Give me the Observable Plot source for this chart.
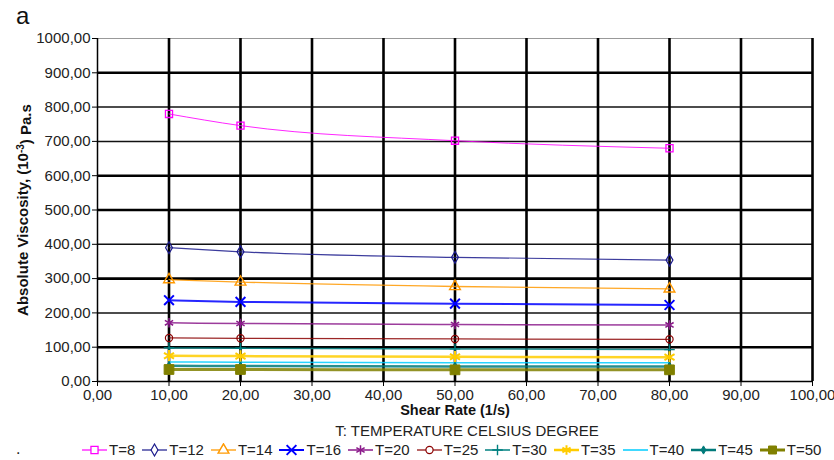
<!DOCTYPE html>
<html><head><meta charset="utf-8">
<script src="https://cdn.jsdelivr.net/npm/d3@7"></script>
<script src="https://cdn.jsdelivr.net/npm/@observablehq/plot@0.6"></script>
<style>
html,body{margin:0;padding:0;background:#fff;}
#wrap{position:relative;width:834px;height:460px;font-family:"Liberation Sans",Arial,sans-serif;color:#222;overflow:hidden}
#chart{position:absolute;left:0;top:0}
#panel{position:absolute;left:16px;top:1px;font-size:24px;line-height:30px;color:#111}
#title{position:absolute;left:0;top:422px;width:834px;box-sizing:border-box;padding-left:100px;text-align:center;font-size:15px;line-height:18px}
#legend{position:absolute;left:82px;top:441px;display:flex;align-items:center;gap:7px;font-size:15px;line-height:18px}
.item{display:flex;align-items:center;gap:2px}
#dot{position:absolute;left:16px;top:440px;font-size:16px}
</style></head>
<body><div id="wrap"><div id="chart"></div><div id="panel">a</div>
<div id="title">T: TEMPERATURE CELSIUS DEGREE</div><div id="legend"></div><div id="dot">.</div></div>
<script>
// ---- data ----
const shearRates = [10, 20, 50, 80];
const seriesNames = ["T=8","T=12","T=14","T=16","T=20","T=25","T=30","T=35","T=40","T=45","T=50"];
const T8  = [780, 746, 702, 680];
const T12 = [390, 378, 362, 354];
const T14 = [297, 290, 277, 270];
const T16 = [237, 232, 227, 223];
const T20 = [171, 169, 166, 165];
const T25 = [127, 126, 124, 123];
const T30 = [98, 97, 95, 93];
const T35 = [75, 74, 72, 71];
const T40 = [57, 56, 55, 55];
const T45 = [46, 45, 44, 44];
const T50 = [35, 35, 34, 34];
const xTicks = [0,10,20,30,40,50,60,70,80,90,100];
const yTicks = [0,100,200,300,400,500,600,700,800,900,1000];
const xLabel = "Shear Rate (1/s)";
const yLabel = "Absolute Viscosity, (10-3) Pa.s";

// ---- styles ----
const values = [T8,T12,T14,T16,T20,T25,T30,T35,T40,T45,T50];
const styles = [
  {c:"#ff00ff", w:1,   sym:"square",   r:4,   fill:"none", sw:1.3},
  {c:"#1a1a8c", w:1.2, sym:"diamond",  r:3.6, fill:"none", sw:1.2},
  {c:"#ff9900", w:1.3, sym:"triangle", r:4,   fill:"none", sw:1.4},
  {c:"#0000ff", w:2,   sym:"times",    r:4.5, fill:"none", sw:2},
  {c:"#8b1a8b", w:1.5, sym:"asterisk", r:4.5, fill:"none", sw:1.5},
  {c:"#8b0000", w:1.2, sym:"circle",   r:3.6, fill:"none", sw:1.2},
  {c:"#008080", w:1.5, sym:"plus",     r:3.5, fill:"none", sw:1.4},
  {c:"#ffcc00", w:2.5, sym:"asterisk", r:5.5, fill:"none", sw:2},
  {c:"#00ccff", w:1.5, sym:null},
  {c:"#007a7a", w:2.5, sym:"diamond",  r:2.5, fill:"#007a7a", sw:1},
  {c:"#808000", w:3,   sym:"square",   r:5.5, fill:"#808000", sw:1}
];
const fmt = d => d3.format(".2f")(d).replace(".", ",");
const thickY = [100,300,500,600,900];

const marks = [
  Plot.ruleY(yTicks.filter(d => d > 0 && d < 1000 && !thickY.includes(d)), {stroke:"#111", strokeWidth:1.5}),
  Plot.ruleY(thickY, {stroke:"#000", strokeWidth:2.6}),
  Plot.ruleY([1000], {stroke:"#999", strokeWidth:1.2}),
  Plot.ruleX(xTicks.filter(d => d > 0), {stroke:"#000", strokeWidth:2.6}),
];
values.forEach((vals, i) => {
  const s = styles[i];
  const data = shearRates.map((x, j) => ({x, y: vals[j]}));
  marks.push(Plot.line(data, {x:"x", y:"y", stroke:s.c, strokeWidth:s.w, curve:"monotone-x", strokeOpacity:0.85}));
  if (s.sym) marks.push(Plot.dot(data, {x:"x", y:"y", symbol:() => s.sym, r:s.r, stroke:s.c, fill:s.fill, strokeWidth:s.sw}));
});
marks.push(
  Plot.ruleY([0], {stroke:"#000", strokeWidth:1.5}),
  Plot.ruleX([0], {stroke:"#000", strokeWidth:1.5}),
  Plot.axisY({ticks:yTicks, tickFormat:fmt, tickSize:5, tickPadding:2, label:null, stroke:"#000", fill:"#222"}),
  Plot.axisX({ticks:xTicks, tickFormat:fmt, tickSize:5, tickPadding:3, label:null, stroke:"#000", fill:"#222"}),
  Plot.text([xLabel], {frameAnchor:"bottom", dy:33, text:d => d, fontWeight:"bold", fontSize:14.5, fill:"#111"}),
  Plot.text([yLabel], {frameAnchor:"left", textAnchor:"middle", dx:-74, rotate:-90, text:d => d, fontWeight:"bold", fontSize:15, fill:"#111"})
);

const plot = Plot.plot({
  width:834, height:422,
  marginLeft:97, marginRight:22, marginTop:38, marginBottom:41,
  x:{domain:[0,100]}, y:{domain:[0,1000]},
  symbol:{type:"identity"},
  style:{fontFamily:'"Liberation Sans", Arial, sans-serif', fontSize:"15px", background:"transparent", color:"#222"},
  marks
});
document.getElementById("chart").appendChild(plot);

// superscript in y label
d3.select(plot).selectAll("text").each(function() {
  if (this.textContent === yLabel) {
    const t = d3.select(this); t.text(null);
    t.append("tspan").text("Absolute Viscosity, (10");
    t.append("tspan").attr("dy", "-0.45em").attr("font-size", "10px").text("-3");
    t.append("tspan").attr("dy", "0.45em").text(") Pa.s");
  }
});

// legend
const symMap = {square:d3.symbolSquare, diamond:d3.symbolDiamond, triangle:d3.symbolTriangle, times:d3.symbolTimes,
  asterisk:d3.symbolAsterisk, circle:d3.symbolCircle, plus:d3.symbolPlus};
const legend = d3.select("#legend");
seriesNames.forEach((name, i) => {
  const s = styles[i];
  const item = legend.append("div").attr("class", "item");
  const svg = item.append("svg").attr("width", 25).attr("height", 14);
  svg.append("line").attr("x1", 0).attr("x2", 25).attr("y1", 7).attr("y2", 7)
    .attr("stroke", s.c).attr("stroke-width", Math.max(1.2, s.w));
  if (s.sym) {
    const r = Math.min(s.r, 4.5);
    svg.append("path").attr("transform", "translate(12.5,7)")
      .attr("d", d3.symbol(symMap[s.sym], r * r * Math.PI)())
      .attr("stroke", s.c).attr("fill", s.fill === "none" ? "white" : s.fill).attr("stroke-width", s.sw);
  }
  item.append("span").text(name);
});
</script></body></html>
